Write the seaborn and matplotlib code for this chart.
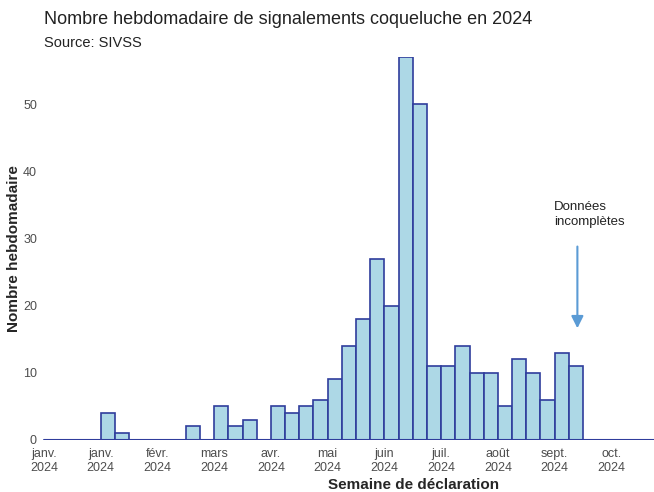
import numpy as np
import pandas as pd
import matplotlib
matplotlib.use('Agg')
import matplotlib.pyplot as plt
import seaborn as sns

# weekly counts, week 0 = first week of January 2024
week_idx = list(range(38))
counts = [0, 0, 0, 0, 4, 1, 0, 0, 0, 0,
          2, 0, 5, 2, 3, 0, 5, 4, 5, 6,
          9, 14, 18, 27, 20, 57, 50, 11, 11, 14,
          10, 10, 5, 12, 10, 6, 13, 11]
tick_weeks = [0, 4, 8, 12, 16, 20, 24, 28, 32, 36, 40]
tick_labels = ['janv.\n2024', 'janv.\n2024', 'févr.\n2024', 'mars\n2024', 'avr.\n2024',
               'mai\n2024', 'juin\n2024', 'juil.\n2024', 'août\n2024', 'sept.\n2024',
               'oct.\n2024']
y_ticks = [0, 10, 20, 30, 40, 50]

sns.set_style('white')
plt.rcParams['font.family'] = ['Liberation Sans', 'DejaVu Sans']

df = pd.DataFrame({'week': [w + 0.5 for w in week_idx], 'n': counts})

fig = plt.figure(figsize=(6.54, 4.92), dpi=100)
ax = fig.add_axes([0.065, 0.106, 0.935, 0.778])

sns.barplot(data=df, x='week', y='n', native_scale=True, width=1,
            color='#ADD8E6', edgecolor='#2F3D9C', linewidth=1.2,
            saturation=1, ax=ax)
ax.axhline(0, color='#2F3D9C', linewidth=1.5, xmin=0.003)

ax.set_xlim(-0.1, 43)
ax.set_ylim(0, 57)
ax.set_xticks(tick_weeks)
ax.set_xticklabels(tick_labels)
ax.set_yticks(y_ticks)
ax.tick_params(axis='both', length=0, labelsize=9, labelcolor='#4D4D4D')
ax.tick_params(axis='y', pad=4)
ax.tick_params(axis='x', pad=6)
for s in ax.spines.values():
    s.set_visible(False)

ax.set_xlabel('Semaine de déclaration', fontsize=11, fontweight='bold')
ax.xaxis.set_label_coords(0.606, -0.10)
ax.set_ylabel('Nombre hebdomadaire', fontsize=11, fontweight='bold')
ax.yaxis.set_label_coords(-0.035, 0.5)

fig.text(0.067, 0.96, 'Nombre hebdomadaire de signalements coqueluche en 2024',
         fontsize=13, color='#222222', va='center')
fig.text(0.067, 0.913, 'Source: SIVSS', fontsize=10.5, color='#222222', va='center')

ax.annotate('', xy=(37.6, 16.2), xytext=(37.6, 29.2),
            arrowprops=dict(arrowstyle='-|>', color='#5B9BD5', lw=1.5,
                            mutation_scale=18))
ax.text(35.95, 33.5, 'Données\nincomplètes', fontsize=9.5, ha='left', va='center',
        linespacing=1.35, color='#222222')

fig.savefig('out.png', dpi=100)
